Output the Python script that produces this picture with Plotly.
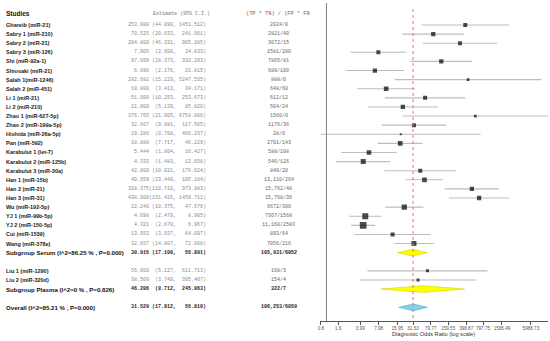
import plotly.graph_objects as go

# ---------------- data ----------------
studies = ["Ghareib (miR-21)", "Sabry 1 (miR-210)", "Sabry 2 (miR-21)", "Sabry 3 (miR-126)",
           "Shi (miR-92a-1)", "Shiosaki (miR-21)", "Salah 1(miR-1246)", "Salah 2 (miR-451)",
           "Li 1 (miR-21)", "Li 2 (miR-210)", "Zhao 1 (miR-627-5p)", "Zhao 2 (miR-199a-5p)",
           "Hishida (miR-26a-5p)", "Pan (miR-592)", "Karabulut 1 (let-7)", "Karabulut 2 (miR-125b)",
           "Karabulut 3 (miR-30a)", "Han 1 (miR-15b)", "Han 2 (miR-21)", "Han 3 (miR-31)",
           "Wu (miR-192-5p)", "YJ 1 (miR-99b-5p)", "YJ 2 (miR-150-5p)", "Cui (miR-1539)",
           "Wang (miR-378e)", "Liu 1 (miR-1290)", "Liu 2 (miR-320d)"]
study_group = ["Serum"] * 25 + ["Plasma"] * 2
study_est = [253.000, 70.525, 204.800, 7.905, 97.099, 6.890, 282.692, 10.800, 51.000, 21.000,
             376.765, 32.667, 19.286, 18.888, 5.444, 4.333, 42.000, 49.659, 328.375, 438.000,
             22.240, 4.698, 4.321, 13.953, 32.667, 56.000, 38.500]
study_lo = [44.090, 20.633, 46.331, 2.600, 28.373, 2.176, 15.229, 3.413, 10.253, 5.139,
            21.005, 9.081, 0.798, 7.717, 1.804, 1.483, 10.021, 23.449, 110.710, 131.426,
            10.375, 2.479, 2.679, 3.037, 14.807, 5.127, 3.749]
study_hi = [1451.512, 241.061, 905.285, 24.033, 332.293, 21.815, 5247.535, 34.171, 253.673, 85.820,
            6758.006, 117.505, 466.237, 46.229, 16.427, 12.658, 176.024, 105.164, 973.983, 1459.711,
            47.676, 8.905, 6.967, 64.097, 72.068, 611.713, 395.407]
study_ratio = ["2024/0", "2821/40", "3072/15", "1581/200", "7865/81", "689/100", "888/0", "648/60",
               "612/12", "504/24", "1560/0", "1176/36", "28/0", "2701/143", "588/108", "546/126",
               "840/20", "13,110/264", "15,762/48", "15,768/36", "6672/300", "7367/1568",
               "11,160/2583", "893/64", "7056/216", "168/3", "154/4"]
# relative study weights (estimated from the square areas)
study_weight = [16, 18.5, 16, 16, 18.5, 18.5, 7.3, 22, 16, 18.5, 7.3, 16, 4, 22, 22, 25, 16, 22,
                18.5, 18.5, 28, 36, 45, 16, 25, 9, 9]

groups = ["Serum", "Plasma"]
group_est = [30.915, 46.206]
group_lo = [17.100, 8.712]
group_hi = [55.891, 245.063]
group_ratio = ["105,931/6052", "322/7"]
group_i2 = ["86.25", "0"]
group_p = ["0.000", "0.826"]

overall_est = 31.529
overall_lo = 17.812
overall_hi = 55.810
overall_ratio = "106,253/6059"
overall_i2 = "85.21"
overall_p = "0.000"

tick_labels = ["0.8", "1.6", "3.99", "7.98", "15.95", "31.53", "79.77", "159.55",
               "398.87", "797.75", "1595.49", "5988.73"]
tick_positions = [0.8, 1.6, 3.85, 8.0, 16.8, 31.53, 64, 128, 262, 512, 1090, 3450]

# ---------------- layout helpers ----------------
W, H = 550, 341
ROW0, ROWH = 25.0, 9.106      # pixel centre of first row, row pitch
AXIS_Y = 321.0                # pixel y of x axis


def row_of_px(py):
    return (py - ROW0) / ROWH


def px(x):
    return x / W


NB = "\u00a0"

# row assignment
rows = {}
r = 0
group_rows = []
for g in groups:
    for i, s in enumerate(studies):
        if study_group[i] == g:
            rows[i] = r
            r += 1
    group_rows.append(r)
    r += 2
overall_row = r

fig = go.Figure()

# CI lines
cx, cy = [], []
for i in range(len(studies)):
    cx += [study_lo[i], study_hi[i], None]
    cy += [rows[i], rows[i], None]
fig.add_trace(go.Scatter(x=cx, y=cy, mode="lines", line=dict(color="#bdbdbd", width=1.1),
                         hoverinfo="skip", showlegend=False))

# squares
fig.add_trace(go.Scatter(
    x=study_est, y=[rows[i] for i in range(len(studies))], mode="markers",
    marker=dict(symbol="square", color="black", size=[w ** 0.5 for w in study_weight], line=dict(width=0)),
    showlegend=False, hoverinfo="skip"))

# diamonds
DH = 0.37


def diamond(e, lo, hi, row, fill, edge):
    fig.add_trace(go.Scatter(x=[lo, e, hi, e, lo], y=[row, row - DH, row, row + DH, row],
                             mode="lines", fill="toself", fillcolor=fill,
                             line=dict(color=edge, width=0.6), showlegend=False, hoverinfo="skip"))


for k in range(len(groups)):
    diamond(group_est[k], group_lo[k], group_hi[k], group_rows[k], "#ffff00", "#d4d400")
diamond(overall_est, overall_lo, overall_hi, overall_row, "#7fd3ea", "#4fa9c6")

top_row = row_of_px(0)
bot_row = row_of_px(AXIS_Y)

# null line and overall line
fig.add_shape(type="line", xref="x", yref="y", x0=1, x1=1, y0=row_of_px(3), y1=bot_row,
              line=dict(color="#808080", width=1))
fig.add_shape(type="line", xref="x", yref="y", x0=overall_est, x1=overall_est,
              y0=row_of_px(9), y1=bot_row, line=dict(color="#ff6b6b", width=1, dash="dot"))

# ---------------- text columns ----------------
NAME_X, EST_R, CI_R, RATIO_C = 2, 149.5, 207, 278
SANS = "Liberation Sans, Arial, sans-serif"
MONO = "Liberation Mono, Courier New, monospace"
ann = []


def add_text(x, row, text, size, color, family, anchor="left", yref="y"):
    ann.append(dict(x=px(x), xref="paper", y=row, yref=yref, text=text, showarrow=False,
                    xanchor=anchor, yanchor="middle",
                    font=dict(size=size, color=color, family=family)))


def ci_text(lo, hi):
    s = f"({lo:.3f}," + f"{hi:.3f})".rjust(10)
    return s.replace(" ", NB)


hdr = row_of_px(13.5)
add_text(NAME_X, hdr, "<b>Studies</b>", 6.5, "#111", SANS)
add_text(150, hdr, "Estimate (95% C.I.)", 5, "#777", MONO)
add_text(RATIO_C - 1, hdr, "(TP * TN) / (FP * FN", 5.3, "#666", MONO, anchor="center")

for i, s in enumerate(studies):
    rr = rows[i]
    add_text(NAME_X, rr, f"<b>{s}</b>", 5.5, "#222", SANS)
    add_text(EST_R, rr, f"{study_est[i]:.3f}", 5, "#8a8a8a", MONO, anchor="right")
    add_text(CI_R, rr, ci_text(study_lo[i], study_hi[i]), 5, "#8a8a8a", MONO, anchor="right")
    add_text(RATIO_C, rr, study_ratio[i], 5, "#666", MONO, anchor="center")

for k, g in enumerate(groups):
    rr = group_rows[k]
    add_text(NAME_X, rr, f"<b>Subgroup {g} (I^2={group_i2[k]} % , P={group_p[k]})</b>", 6.1, "#111", SANS)
    add_text(EST_R, rr, f"<b>{group_est[k]:.3f}</b>", 5, "#222", MONO, anchor="right")
    add_text(CI_R, rr, "<b>" + ci_text(group_lo[k], group_hi[k]) + "</b>", 5, "#222", MONO, anchor="right")
    add_text(RATIO_C, rr, f"<b>{group_ratio[k]}</b>", 5, "#222", MONO, anchor="center")

add_text(NAME_X, overall_row, f"<b>Overall (I^2={overall_i2} % , P={overall_p})</b>", 6.1, "#111", SANS)
add_text(EST_R, overall_row, f"<b>{overall_est:.3f}</b>", 5, "#222", MONO, anchor="right")
add_text(CI_R, overall_row, "<b>" + ci_text(overall_lo, overall_hi) + "</b>", 5, "#222", MONO, anchor="right")
add_text(RATIO_C, overall_row, f"<b>{overall_ratio}</b>", 5, "#222", MONO, anchor="center")

# axis title
ann.append(dict(x=px(433), xref="paper", y=(H - 334) / H, yref="paper",
                text="Diagnostic Odds Ratio (log scale)", showarrow=False,
                xanchor="center", yanchor="middle", font=dict(size=5.6, color="#333", family=SANS)))

# ---------------- axes ----------------
X_LEFT_PX, X_RIGHT_PX = 319.0, 548.0
PX_PER_DEC = 58.0
lg08 = -0.09691
xr0 = lg08 - (320 - X_LEFT_PX) / PX_PER_DEC
xr1 = lg08 + (X_RIGHT_PX - 320) / PX_PER_DEC

fig.update_layout(
    width=W, height=H, margin=dict(l=0, r=0, t=0, b=0),
    paper_bgcolor="white", plot_bgcolor="white",
    annotations=ann, showlegend=False,
    xaxis=dict(type="log", range=[xr0, xr1], domain=[X_LEFT_PX / W, X_RIGHT_PX / W],
               tickvals=tick_positions, ticktext=tick_labels,
               ticks="outside", ticklen=3, tickwidth=0.8, tickcolor="#555",
               showline=True, linecolor="#555", linewidth=0.8, showgrid=False, zeroline=False,
               tickfont=dict(size=4.6, color="#555", family=SANS), fixedrange=True),
    yaxis=dict(range=[bot_row, top_row], domain=[(H - AXIS_Y) / H, 1],
               showticklabels=False, showgrid=False, zeroline=False, showline=False,
               fixedrange=True),
)

fig.write_html("out.html", config={"displayModeBar": False},
               post_script="document.body.style.margin='0px';document.body.style.overflow='hidden';")
